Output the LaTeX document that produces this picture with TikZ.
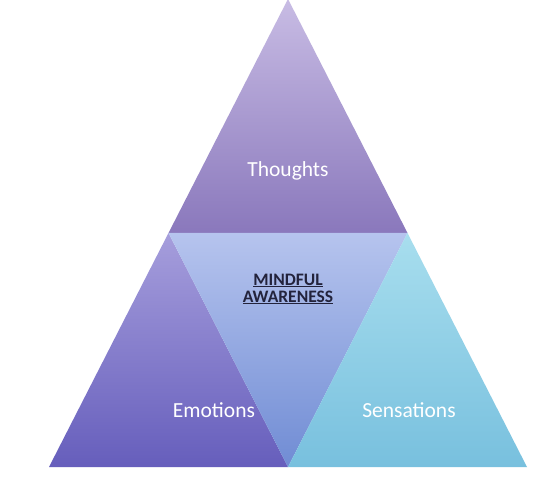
\documentclass[tikz,border=0pt]{standalone}
\usepackage{fontspec}
\setmainfont{Carlito}
\begin{document}
\begin{tikzpicture}[x=1pt,y=1pt,
  lbl/.style={text=white, font=\fontsize{21.5}{25}\selectfont},
  ctr/.style={text={rgb,255:red,35;green,35;blue,60}, font=\bfseries\fontsize{17.5}{17}\selectfont, align=center}]
\useasboundingbox (0,0) rectangle (552,480);
\fill[white] (0,0) rectangle (552,480);
\coordinate (A) at (288,481);
\coordinate (L) at (49,13);
\coordinate (R) at (527,13);
\coordinate (ML) at (168.5,247);
\coordinate (MR) at (407.5,247);
\coordinate (MB) at (288,13);
\definecolor{topT}{RGB}{200,188,228}
\definecolor{topB}{RGB}{138,120,188}
\definecolor{leftT}{RGB}{166,158,220}
\definecolor{leftB}{RGB}{102,94,188}
\definecolor{midT}{RGB}{182,196,238}
\definecolor{midB}{RGB}{112,140,212}
\definecolor{rightT}{RGB}{168,222,238}
\definecolor{rightB}{RGB}{120,192,222}
\shade[top color=topT, bottom color=topB] (A) -- (ML) -- (MR) -- cycle;
\shade[top color=leftT, bottom color=leftB] (ML) -- (L) -- (MB) -- cycle;
\shade[top color=midT, bottom color=midB] (ML) -- (MR) -- (MB) -- cycle;
\shade[top color=rightT, bottom color=rightB] (MR) -- (MB) -- (R) -- cycle;
\node[lbl] (th) at (288,309) {Thoughts};
\node[lbl] (em) at (214,70) {Emotions};
\node[lbl] (se) at (409,70) {Sensations};
\node[ctr] (mi) at (288,191) {\underline{MINDFUL}\\\underline{AWARENESS}};
\end{tikzpicture}
\end{document}
